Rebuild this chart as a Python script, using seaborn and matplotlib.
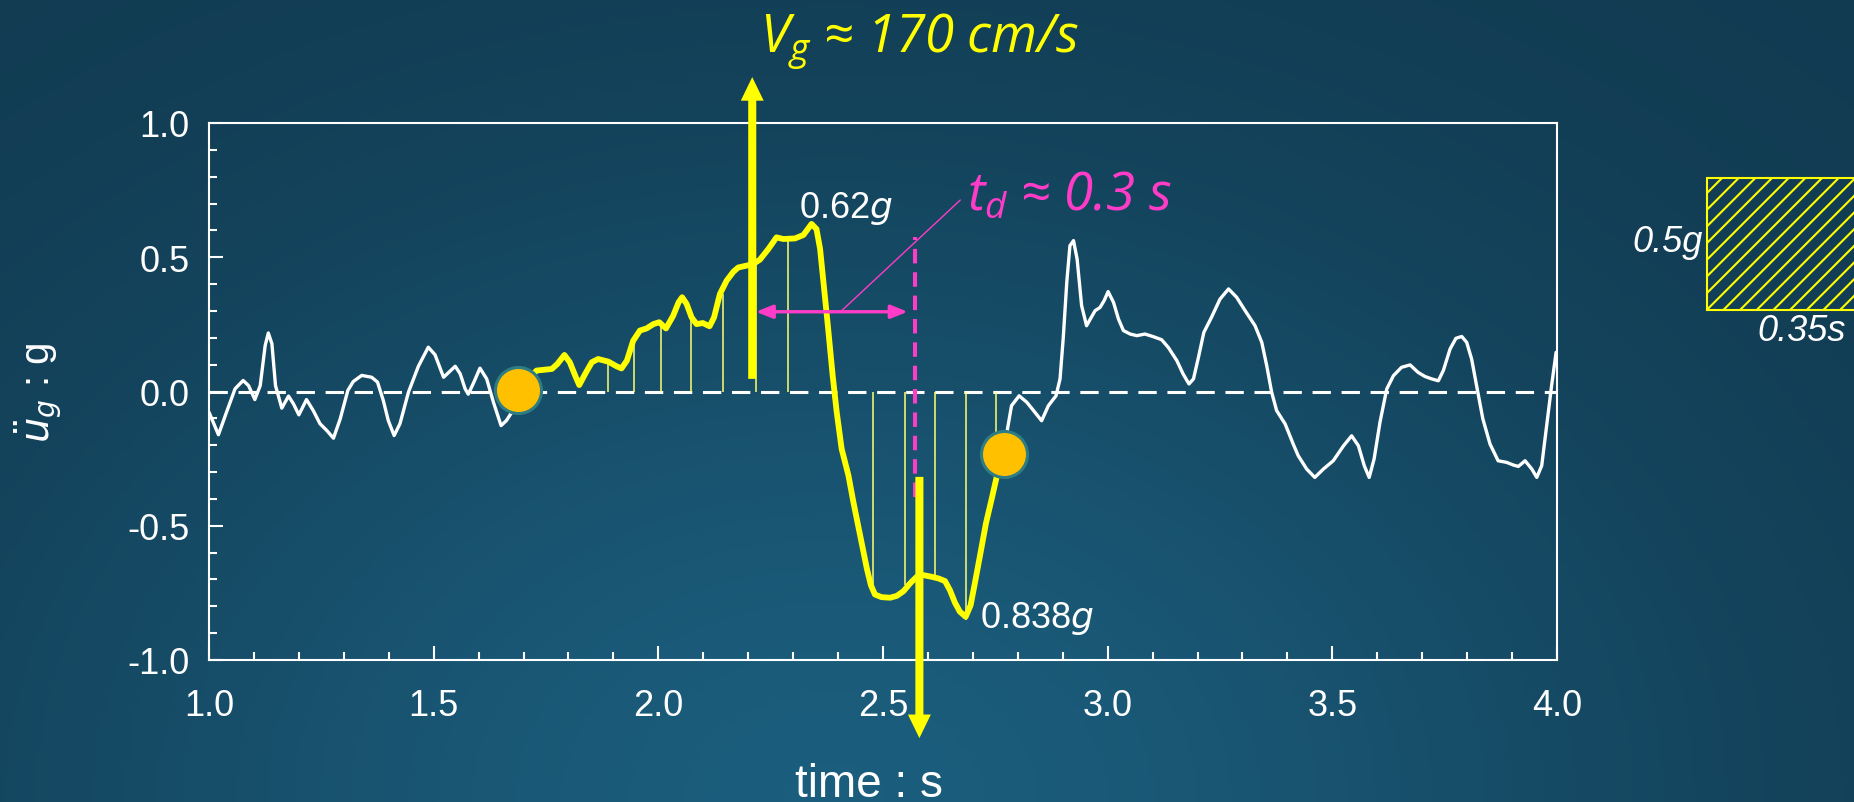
import numpy as np
import pandas as pd
import matplotlib
matplotlib.use("Agg")
import matplotlib.pyplot as plt
from matplotlib.patches import Rectangle
from matplotlib.colors import LinearSegmentedColormap
from matplotlib.ticker import MultipleLocator, FormatStrFormatter
import seaborn as sns

# ground acceleration record (time s, accel g)
white_before = [
    (1.000, -0.077), (1.021, -0.161), (1.039, -0.077), (1.058, 0.010), (1.076, 0.041),
    (1.088, 0.022), (1.102, -0.030), (1.114, 0.022), (1.125, 0.171), (1.132, 0.218),
    (1.140, 0.178), (1.148, 0.022), (1.162, -0.062), (1.177, -0.017), (1.188, -0.046),
    (1.200, -0.087), (1.217, -0.030), (1.232, -0.071), (1.247, -0.120), (1.262, -0.145),
    (1.277, -0.174), (1.292, -0.102), (1.309, 0.004), (1.321, 0.037), (1.340, 0.060),
    (1.362, 0.053), (1.375, 0.035), (1.388, -0.034), (1.399, -0.108), (1.412, -0.164),
    (1.425, -0.120), (1.444, -0.002), (1.466, 0.094), (1.488, 0.165), (1.503, 0.137),
    (1.522, 0.053), (1.548, 0.094), (1.559, 0.066), (1.570, 0.010), (1.577, -0.010),
    (1.588, 0.029), (1.603, 0.087), (1.618, 0.047), (1.633, -0.040), (1.650, -0.127),
    (1.662, -0.108), (1.674, -0.077), (1.688, 0.007),
]

pulse_t = [
    1.688, 1.729, 1.763, 1.775, 1.791, 1.803, 1.815, 1.824, 1.837, 1.852,
    1.866, 1.889, 1.907, 1.918, 1.930, 1.944, 1.959, 1.974, 1.989, 2.002,
    2.017, 2.033, 2.045, 2.053, 2.063, 2.074, 2.085, 2.099, 2.114, 2.124,
    2.137, 2.152, 2.167, 2.178, 2.197, 2.211, 2.226, 2.245, 2.263, 2.278,
    2.304, 2.323, 2.341, 2.352, 2.360, 2.369, 2.378, 2.388, 2.397, 2.408,
    2.423, 2.434, 2.449, 2.464, 2.473, 2.482, 2.497, 2.516, 2.531, 2.546,
    2.560, 2.575, 2.590, 2.608, 2.623, 2.638, 2.649, 2.660, 2.671, 2.684,
    2.695, 2.705, 2.716, 2.729, 2.742, 2.753, 2.769,
]
pulse_a = [
    0.007, 0.078, 0.084, 0.102, 0.136, 0.109, 0.059, 0.024, 0.065, 0.109,
    0.121, 0.111, 0.094, 0.086, 0.115, 0.189, 0.227, 0.235, 0.251, 0.258,
    0.235, 0.282, 0.332, 0.351, 0.326, 0.276, 0.251, 0.255, 0.243, 0.276,
    0.363, 0.413, 0.446, 0.462, 0.469, 0.475, 0.491, 0.531, 0.574, 0.568,
    0.570, 0.583, 0.624, 0.605, 0.531, 0.382, 0.233, 0.059, -0.077, -0.214,
    -0.312, -0.411, -0.535, -0.659, -0.721, -0.756, -0.766, -0.768, -0.761, -0.743,
    -0.715, -0.690, -0.684, -0.690, -0.696, -0.706, -0.740, -0.786, -0.820, -0.839,
    -0.796, -0.709, -0.610, -0.492, -0.399, -0.318, -0.232,
]

white_after = [
    (2.769, -0.232), (2.777, -0.140), (2.786, -0.053), (2.803, -0.016), (2.820, -0.040),
    (2.835, -0.071), (2.853, -0.109), (2.868, -0.053), (2.885, -0.016), (2.894, 0.047),
    (2.901, 0.196), (2.909, 0.407), (2.916, 0.543), (2.924, 0.562), (2.932, 0.493),
    (2.942, 0.320), (2.953, 0.245), (2.972, 0.301), (2.983, 0.313), (2.992, 0.338),
    (3.001, 0.372), (3.013, 0.332), (3.024, 0.270), (3.035, 0.227), (3.050, 0.214),
    (3.065, 0.208), (3.083, 0.214), (3.102, 0.204), (3.120, 0.193), (3.135, 0.164),
    (3.154, 0.115), (3.168, 0.065), (3.181, 0.028), (3.191, 0.047), (3.202, 0.127),
    (3.214, 0.220), (3.231, 0.276), (3.250, 0.344), (3.269, 0.382), (3.287, 0.351),
    (3.306, 0.301), (3.328, 0.245), (3.343, 0.183), (3.354, 0.096), (3.365, -0.003),
    (3.376, -0.071), (3.395, -0.121), (3.413, -0.196), (3.424, -0.239), (3.443, -0.289),
    (3.461, -0.320), (3.480, -0.289), (3.502, -0.258), (3.525, -0.202), (3.543, -0.165),
    (3.558, -0.202), (3.571, -0.276), (3.582, -0.320), (3.593, -0.251), (3.606, -0.115),
    (3.621, 0.009), (3.636, 0.059), (3.654, 0.090), (3.673, 0.099), (3.691, 0.071),
    (3.706, 0.056), (3.721, 0.047), (3.736, 0.040), (3.747, 0.078), (3.762, 0.158),
    (3.775, 0.198), (3.788, 0.205), (3.799, 0.183), (3.810, 0.121), (3.821, 0.022),
    (3.835, -0.102), (3.851, -0.196), (3.869, -0.258), (3.888, -0.264), (3.903, -0.274),
    (3.914, -0.279), (3.929, -0.258), (3.944, -0.289), (3.955, -0.320), (3.966, -0.276),
    (3.977, -0.127), (3.988, 0.022), (3.998, 0.146),
]

# thin velocity-area strips under the pulse
stem_t = [1.889, 1.946, 2.007, 2.072, 2.145, 2.217, 2.289, 2.477, 2.549, 2.615, 2.685, 2.751]
stem_a = [0.106, 0.196, 0.245, 0.282, 0.363, 0.475, 0.568, -0.758, -0.721, -0.696, -0.851, -0.325]

# pulse start / end markers
circle_t = [1.688, 2.769]
circle_a = [0.007, -0.232]

x_ticks = [1.0, 1.5, 2.0, 2.5, 3.0, 3.5, 4.0]
y_ticks = [-1.0, -0.5, 0.0, 0.5, 1.0]

YELLOW = "#ffff00"
PINK = "#ff3cc8"

sns.set_style("ticks")
plt.rcParams["font.family"] = ["Liberation Sans", "DejaVu Sans"]
plt.rcParams["axes.unicode_minus"] = False
plt.rcParams["mathtext.fontset"] = "custom"
plt.rcParams["mathtext.it"] = "Open Sans:italic"
plt.rcParams["mathtext.rm"] = "Open Sans:italic"
plt.rcParams["hatch.linewidth"] = 1.5

fig = plt.figure(figsize=(18.54, 8.03), dpi=100)

# slide-like background gradient
bg = fig.add_axes([0, 0, 1, 1], zorder=-10)
gx, gy = np.meshgrid(np.linspace(0, 1, 400), np.linspace(0, 1, 200))
glow = np.exp(-(((gx - 0.45) / 0.45) ** 2 + (gy / 0.75) ** 2))
bg_cmap = LinearSegmentedColormap.from_list("bg", ["#113a50", "#1b5d7c"])
bg.imshow(glow, cmap=bg_cmap, origin="lower", extent=[0, 1, 0, 1], aspect="auto", vmin=0, vmax=1)
bg.axis("off")

ax = fig.add_axes([209 / 1854, 142 / 803, 1348 / 1854, 537 / 803])
ax.set_facecolor("none")

ax.axhline(0, color="white", lw=2.2, dashes=(6, 3.5), zorder=1)
ax.vlines(stem_t, 0, stem_a, color="#ffff70", lw=1.1, zorder=2)

wb = pd.DataFrame(white_before, columns=["t", "a"])
wa = pd.DataFrame(white_after, columns=["t", "a"])
pulse = pd.DataFrame({"t": pulse_t, "a": pulse_a})
sns.lineplot(data=wb, x="t", y="a", sort=False, estimator=None, color="white", linewidth=2.4, ax=ax, zorder=3)
sns.lineplot(data=wa, x="t", y="a", sort=False, estimator=None, color="white", linewidth=2.4, ax=ax, zorder=3)
sns.lineplot(data=pulse, x="t", y="a", sort=False, estimator=None, color=YELLOW, linewidth=4.2, ax=ax, zorder=4)

# velocity arrows
simple = "simple,head_length=17,head_width=16.5,tail_width=5.8"
ax.annotate("", xy=(2.209, 1.171), xytext=(2.209, 0.047), annotation_clip=False,
            arrowprops=dict(arrowstyle=simple, mutation_scale=1, color=YELLOW, lw=0,
                            shrinkA=0, shrinkB=0), zorder=6)
ax.annotate("", xy=(2.581, -1.291), xytext=(2.581, -0.318), annotation_clip=False,
            arrowprops=dict(arrowstyle=simple, mutation_scale=1, color=YELLOW, lw=0,
                            shrinkA=0, shrinkB=0), zorder=6)

# pulse duration marks
ax.vlines([2.571], -0.393, 0.574, color=PINK, lw=2.9, linestyles=(0, (3.6, 2.2)), zorder=5)
ax.annotate("", xy=(2.217, 0.297), xytext=(2.555, 0.297),
            arrowprops=dict(arrowstyle="<|-|>,head_length=10,head_width=4", mutation_scale=1,
                            color=PINK, lw=2.4, shrinkA=0, shrinkB=0), zorder=6)
ax.plot([2.408, 2.672], [0.301, 0.713], color=PINK, lw=1.0, zorder=6, clip_on=False)

sns.scatterplot(x=circle_t, y=circle_a, s=1100, color="#ffc000", edgecolor="#2e7d84",
                linewidth=2.2, zorder=8, ax=ax, clip_on=False)

ax.text(2.687, 0.683, r"$t_d$ ≈ 0.3 s", color=PINK, fontsize=38,
        family=["Open Sans", "DejaVu Sans"], style="italic", va="baseline")
ax.text(2.313, 0.650, r"0.62$g$", color="white", fontsize=26, va="baseline",
        math_fontfamily="dejavusans")
ax.text(2.716, -0.877, r"0.838$g$", color="white", fontsize=26, va="baseline",
        math_fontfamily="dejavusans")
fig.text(760 / 1854, 1 - 53 / 803, r"$V_g$ ≈ 170 cm/s", color=YELLOW, fontsize=38,
         family=["Open Sans", "DejaVu Sans"], style="italic", va="baseline")

# axes styling
ax.set_xlim(1, 4)
ax.set_ylim(-1, 1)
ax.set_xticks(x_ticks)
ax.set_yticks(y_ticks)
ax.xaxis.set_minor_locator(MultipleLocator(0.1))
ax.yaxis.set_minor_locator(MultipleLocator(0.1))
ax.xaxis.set_major_formatter(FormatStrFormatter("%.1f"))
ax.yaxis.set_major_formatter(FormatStrFormatter("%.1f"))
ax.tick_params(which="both", direction="in", colors="white", width=1.5, top=False, right=False)
ax.tick_params(which="major", length=10, labelsize=26)
ax.tick_params(which="minor", length=6)
ax.tick_params(axis="x", which="major", pad=20)
ax.tick_params(axis="y", which="major", pad=14)
for side in ["left", "right", "top", "bottom"]:
    ax.spines[side].set_visible(True)
    ax.spines[side].set_color("white")
    ax.spines[side].set_linewidth(1.5)

ax.set_xlabel("time : s", fontsize=33, color="white", va="center")
ax.set_ylabel(r"$\ddot{u}_g$ : g", fontsize=29, color="white", va="center",
              math_fontfamily="dejavusans")
ax.xaxis.set_label_coords(0.4896, -0.23)
ax.yaxis.set_label_coords(-0.126, 0.5)

# rectangular pulse sketch on the right
fig.add_artist(Rectangle((1707 / 1854, 1 - 311 / 803), 0.2, 132 / 803, transform=fig.transFigure,
                         facecolor="none", edgecolor=YELLOW, hatch="//", lw=1.5))
fig.text(1703 / 1854, 1 - 242 / 803, "0.5g", color="white", fontsize=26, style="italic",
         ha="right", va="center")
fig.text(1802 / 1854, 1 - 332 / 803, "0.35s", color="white", fontsize=26, style="italic",
         ha="center", va="center")

fig.savefig("out.png", dpi=100, facecolor=fig.get_facecolor())
